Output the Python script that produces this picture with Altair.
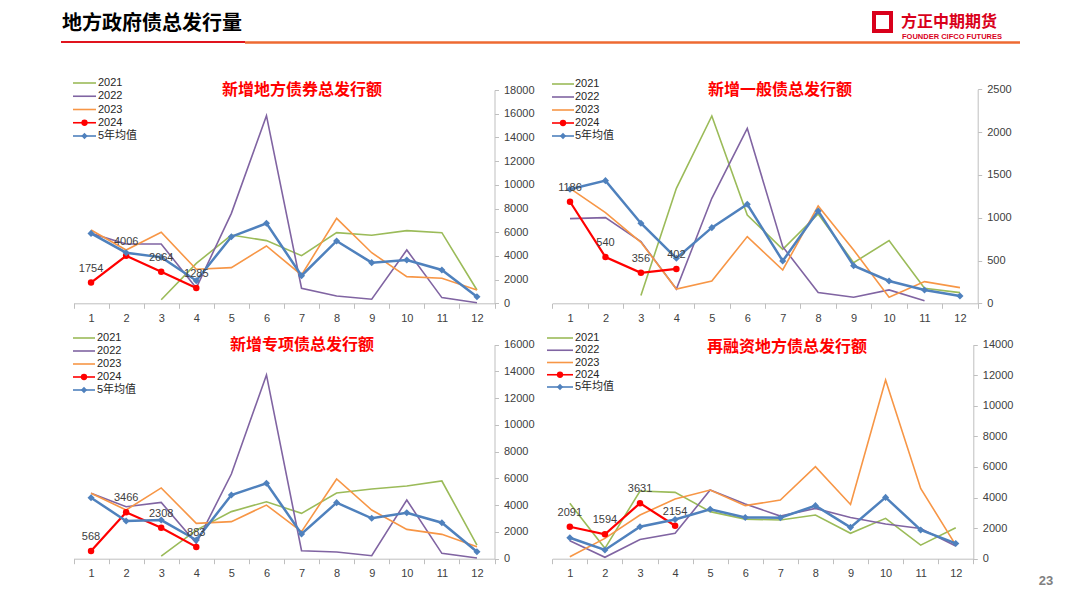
import altair as alt
import pandas as pd

# ---------------- data ----------------
months = list(range(1, 13))
series_names = ["2021", "2022", "2023", "2024", "5年均值"]
series_colors = ["#9BBB59", "#8064A2", "#F79646", "#FF0000", "#4F81BD"]

# 新增地方债券总发行额
p1_2021 = [None, None, 300, 3370, 5760, 5290, 4020, 5960, 5740, 6130, 5960, 1120]
p1_2022 = [5900, 5000, 5000, 1300, 7590, 15830, 1270, 620, 340, 4500, 480, 50]
p1_2023 = [6190, 4500, 5990, 2870, 3010, 4840, 2390, 7170, 4270, 2250, 2110, 1120]
p1_2024 = [1754, 4006, 2664, 1285, None, None, None, None, None, None, None, None]
p1_avg = [5900, 4270, 3880, 1910, 5620, 6750, 2330, 5260, 3430, 3660, 2810, 560]

# 新增一般债总发行额
p2_2021 = [None, None, 90, 1343, 2188, 1032, 631, 1044, 475, 732, 175, 125]
p2_2022 = [989, 1001, 720, 167, 1227, 2044, 662, 125, 70, 156, 31, None]
p2_2023 = [1343, 1059, 713, 167, 261, 779, 389, 1137, 623, 70, 253, 183]
p2_2024 = [1186, 540, 356, 402, None, None, None, None, None, None, None, None]
p2_avg = [1332, 1433, 935, 526, 884, 1157, 495, 1079, 440, 261, 156, 86]

# 新增专项债总发行额
p3_2021 = [None, None, 200, 2140, 3520, 4260, 3390, 4910, 5210, 5440, 5810, 1020]
p3_2022 = [4890, 3890, 4210, 1150, 6330, 13740, 600, 500, 220, 4390, 400, 50]
p3_2023 = [4890, 3640, 5290, 2640, 2770, 4010, 2020, 5960, 3640, 2190, 1820, 900]
p3_2024 = [568, 3466, 2308, 883, None, None, None, None, None, None, None, None]
p3_avg = [4560, 2820, 2890, 1400, 4760, 5640, 1850, 4190, 3020, 3440, 2690, 520]

# 再融资地方债总发行额
p4_2021 = [3620, 680, 4430, 4340, 3080, 2590, 2530, 2860, 1660, 2640, 890, 2030]
p4_2022 = [1180, 90, 1260, 1660, 4490, 3580, 2790, 3290, 2700, 2270, 1980, 830]
p4_2023 = [130, 1330, 2860, 3900, 4490, 3470, 3840, 6020, 3550, 11690, 4600, 890]
p4_2024 = [2091, 1594, 3631, 2154, None, None, None, None, None, None, None, None]
p4_avg = [1370, 570, 2090, 2570, 3230, 2700, 2680, 3470, 2050, 4010, 1880, 1000]

panel_titles = ["新增地方债券总发行额", "新增一般债总发行额", "新增专项债总发行额", "再融资地方债总发行额"]
page_title = "地方政府债总发行量"
logo_cn = "方正中期期货"
logo_en = "FOUNDER CIFCO FUTURES"
page_no = "23"

W, H = 1060, 588
FONT = "Liberation Sans, Noto Sans CJK SC, sans-serif"
CJK = "Noto Sans CJK SC"

color_scale = alt.Scale(domain=series_names, range=series_colors)


def long_df(lists):
    rows = []
    for name, vals in zip(series_names, lists):
        for m, v in zip(months, vals):
            if v is not None:
                rows.append({"month": m, "series": name, "value": v})
    return pd.DataFrame(rows)


def panel(lists, ymax, ystep, xr, yr):
    df = long_df(lists)
    x_off = yr[0] - H
    y_off = xr[1] - W
    xenc = alt.X(
        "month:O",
        bandPosition=0.5,
        scale=alt.Scale(type="band", domain=months, range=xr, paddingInner=0, paddingOuter=0),
        axis=alt.Axis(orient="bottom", offset=x_off, title=None, labelAngle=0, tickBand="extent",
                      domainColor="#BFBFBF", tickColor="#BFBFBF", tickSize=5, labelPadding=4,
                      labelFont=FONT, labelFontSize=11, labelColor="#404040", grid=False),
    )
    yenc = alt.Y(
        "value:Q",
        scale=alt.Scale(domain=[0, ymax], range=yr, nice=False, zero=True),
        axis=alt.Axis(orient="right", offset=y_off, title=None, values=list(range(0, ymax + 1, ystep)),
                      grid=False, domainColor="#BFBFBF", tickColor="#BFBFBF", tickSize=4, labelPadding=5,
                      labelFont=FONT, labelFontSize=11, labelColor="#404040", format="d"),
    )
    col = alt.Color("series:N", scale=color_scale, legend=None)
    base = alt.Chart(df).encode(x=xenc, y=yenc, color=col)
    layers = []
    for s in series_names[:3]:
        layers.append(base.transform_filter(alt.datum.series == s).mark_line(strokeWidth=1.6))
    red = base.transform_filter(alt.datum.series == "2024")
    blue = base.transform_filter(alt.datum.series == "5年均值")
    layers.append(red.mark_line(strokeWidth=2.2))
    layers.append(red.mark_point(shape="circle", filled=True, size=42, opacity=1))
    layers.append(blue.mark_line(strokeWidth=2.5))
    layers.append(blue.mark_point(shape="diamond", filled=True, size=50, opacity=1))
    layers.append(red.mark_text(dy=-14, fontSize=11, font=FONT, color="#404040")
                  .encode(text=alt.Text("value:Q", format="d"), color=alt.value("#404040")))
    return alt.layer(*layers)


def legend(x0, x1, xt, y0, y4):
    ldf = pd.DataFrame({"series": series_names})
    yenc = alt.Y("series:N", scale=alt.Scale(type="point", domain=series_names, range=[y0, y4], padding=0),
                 axis=None)
    col = alt.Color("series:N", scale=color_scale, legend=None)
    base = alt.Chart(ldf).encode(y=yenc, color=col)
    rule = base.mark_rule().encode(
        x=alt.value(x0), x2=alt.value(x1),
        strokeWidth=alt.StrokeWidth("series:N", scale=alt.Scale(domain=series_names, range=[1.6, 1.6, 1.6, 2.2, 2.5]),
                                    legend=None))
    mid = (x0 + x1) / 2
    pr = base.transform_filter(alt.datum.series == "2024").mark_point(
        shape="circle", filled=True, size=40, opacity=1).encode(x=alt.value(mid))
    pb = base.transform_filter(alt.datum.series == "5年均值").mark_point(
        shape="diamond", filled=True, size=40, opacity=1).encode(x=alt.value(mid))
    txt = base.mark_text(align="left", baseline="middle", fontSize=11, font=FONT).encode(
        x=alt.value(xt), text="series:N", color=alt.value("#262626"))
    return alt.layer(rule, pr, pb, txt)


one = alt.Data(values=[{}])


def text(t, x, y, size, color, weight="normal", align="center", font=CJK):
    return alt.Chart(one).mark_text(text=t, fontSize=size, color=color, fontWeight=weight, align=align,
                                    baseline="middle", font=font).encode(x=alt.value(x), y=alt.value(y))


def rule(x1, x2, y, color, w):
    return alt.Chart(one).mark_rule(color=color, strokeWidth=w).encode(
        x=alt.value(x1), x2=alt.value(x2), y=alt.value(y))


p1 = panel([p1_2021, p1_2022, p1_2023, p1_2024, p1_avg], 18000, 2000, [65.5, 486.5], [295.3, 82])
p2 = panel([p2_2021, p2_2022, p2_2023, p2_2024, p2_avg], 2500, 500, [544.3, 969.7], [295.3, 81.3])
p3 = panel([p3_2021, p3_2022, p3_2023, p3_2024, p3_avg], 16000, 2000, [65.5, 486.5], [550.7, 336.7])
p4 = panel([p4_2021, p4_2022, p4_2023, p4_2024, p4_avg], 14000, 2000, [544.3, 965.3], [550.7, 336.7])

l1 = legend(65, 88, 90, 75, 128)
l2 = legend(544, 566, 567, 76, 128)
l3 = legend(65, 87, 89, 330, 382)
l4 = legend(539, 565, 567, 330, 379)

deco = [
    text(page_title, 54, 16, 20, "#000000", weight="bold", align="left"),
    rule(53, 237, 34, "#E0141E", 2),
    rule(237, 1012, 34.5, "#EE6A32", 2.5),
    alt.Chart(one).mark_rect(fillOpacity=0, stroke="#D9001B", strokeWidth=4).encode(
        x=alt.value(866), x2=alt.value(883), y=alt.value(5), y2=alt.value(23)),
    text(logo_cn, 893, 13.5, 16, "#D9001B", weight="bold", align="left"),
    text(logo_en, 894, 28.5, 7.5, "#D9001B", weight="bold", align="left", font=FONT),
    text(page_no, 1038, 573, 13, "#808080", weight="bold", font=FONT),
    text(panel_titles[0], 294, 82, 16, "#FF0000", weight="bold"),
    text(panel_titles[1], 772, 82, 16, "#FF0000", weight="bold"),
    text(panel_titles[2], 294, 337, 16, "#FF0000", weight="bold"),
    text(panel_titles[3], 779, 339, 16, "#FF0000", weight="bold"),
]

chart = (
    alt.layer(p1, p2, p3, p4, l1, l2, l3, l4, *deco)
    .resolve_scale(x="independent", y="independent")
    .properties(width=W, height=H, padding=0, background="white")
    .configure_view(stroke=None)
)

chart.save("out.html", embed_options={"renderer": "svg", "actions": False})
